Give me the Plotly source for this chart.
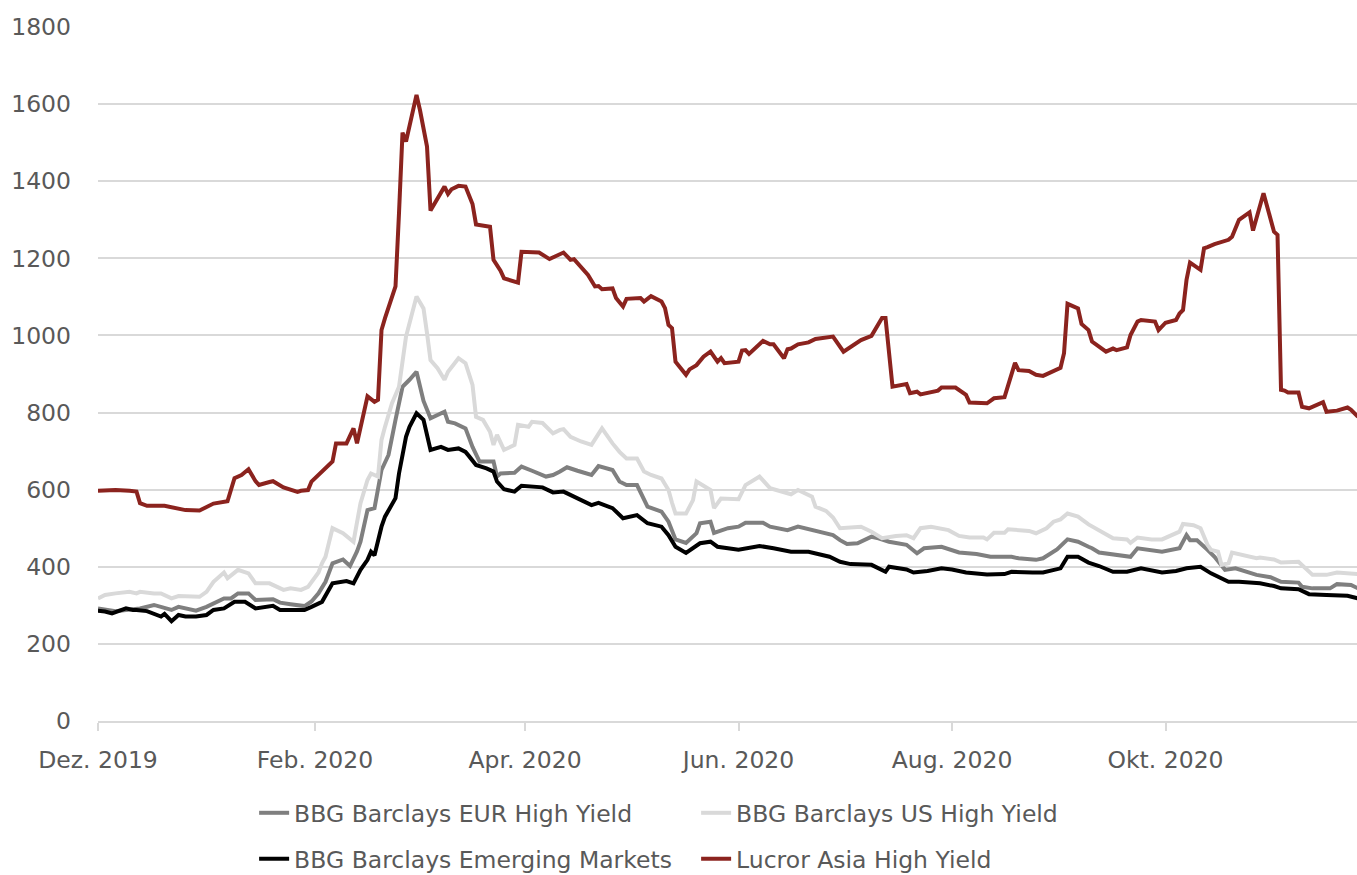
import plotly.graph_objects as go

# Spread indices (bp), Dec 2019 - Nov 2020
eur_dates = ["2019-12-01", "2019-12-04", "2019-12-06", "2019-12-09", "2019-12-13", "2019-12-17",
             "2019-12-19", "2019-12-22", "2019-12-24", "2019-12-29", "2020-01-01", "2020-01-04",
             "2020-01-06", "2020-01-08", "2020-01-10", "2020-01-13", "2020-01-15", "2020-01-20",
             "2020-01-22", "2020-01-25", "2020-01-29", "2020-01-31", "2020-02-02", "2020-02-04",
             "2020-02-06", "2020-02-09", "2020-02-11", "2020-02-13", "2020-02-14", "2020-02-16",
             "2020-02-18", "2020-02-20", "2020-02-22", "2020-02-24", "2020-02-26", "2020-02-28",
             "2020-03-01", "2020-03-03", "2020-03-05", "2020-03-09", "2020-03-10", "2020-03-12",
             "2020-03-15", "2020-03-17", "2020-03-19", "2020-03-23", "2020-03-24", "2020-03-25",
             "2020-03-29", "2020-03-31", "2020-04-02", "2020-04-03", "2020-04-07", "2020-04-09",
             "2020-04-11", "2020-04-13", "2020-04-16", "2020-04-20", "2020-04-22", "2020-04-26",
             "2020-04-28", "2020-04-30", "2020-05-03", "2020-05-06", "2020-05-10", "2020-05-12",
             "2020-05-14", "2020-05-17", "2020-05-20", "2020-05-21", "2020-05-24", "2020-05-25",
             "2020-05-29", "2020-06-01", "2020-06-03", "2020-06-08", "2020-06-10", "2020-06-15",
             "2020-06-18", "2020-06-22", "2020-06-25", "2020-06-28", "2020-06-30", "2020-07-02",
             "2020-07-05", "2020-07-09", "2020-07-11", "2020-07-14", "2020-07-19", "2020-07-22",
             "2020-07-24", "2020-07-29", "2020-08-03", "2020-08-08", "2020-08-12", "2020-08-18",
             "2020-08-20", "2020-08-25", "2020-08-27", "2020-08-31", "2020-09-03", "2020-09-06",
             "2020-09-09", "2020-09-10", "2020-09-12", "2020-09-16", "2020-09-21", "2020-09-23",
             "2020-09-30", "2020-10-05", "2020-10-07", "2020-10-08", "2020-10-10", "2020-10-13",
             "2020-10-15", "2020-10-18", "2020-10-21", "2020-10-27", "2020-10-31", "2020-11-03",
             "2020-11-08", "2020-11-09", "2020-11-12", "2020-11-17", "2020-11-19", "2020-11-23",
             "2020-11-25"]
eur_values = [292, 288, 285, 288, 292, 301,
              296, 288, 296, 286, 296, 310,
              318, 318, 331, 331, 314, 316,
              307, 303, 298, 310, 331, 361,
              409, 419, 402, 440, 465, 547,
              552, 651, 690, 781, 867, 885,
              906, 830, 785, 802, 776, 772,
              759, 711, 673, 673, 634, 642,
              644, 660, 651, 649, 634, 638,
              647, 658, 649, 638, 661, 651,
              621, 612, 612, 556, 543, 517,
              471, 462, 487, 513, 517, 488,
              500, 504, 514, 514, 504, 495,
              504, 495, 487, 482, 469, 459,
              461, 478, 474, 465, 457, 435,
              448, 452, 437, 433, 426, 426,
              422, 418, 422, 445, 471, 465,
              452, 448, 437, 431, 426, 448,
              439, 448, 482, 469, 469, 444,
              426, 392, 396, 379, 373, 361,
              359, 348, 344, 344, 355, 353,
              344]

us_dates = ["2019-12-01", "2019-12-03", "2019-12-06", "2019-12-10", "2019-12-12", "2019-12-13",
            "2019-12-17", "2019-12-19", "2019-12-22", "2019-12-24", "2019-12-30", "2020-01-01",
            "2020-01-03", "2020-01-06", "2020-01-07", "2020-01-10", "2020-01-13", "2020-01-15",
            "2020-01-19", "2020-01-23", "2020-01-25", "2020-01-28", "2020-01-30", "2020-02-02",
            "2020-02-03", "2020-02-04", "2020-02-06", "2020-02-09", "2020-02-12", "2020-02-14",
            "2020-02-16", "2020-02-17", "2020-02-19", "2020-02-20", "2020-02-21", "2020-02-23",
            "2020-02-25", "2020-02-27", "2020-03-01", "2020-03-03", "2020-03-04", "2020-03-05",
            "2020-03-07", "2020-03-09", "2020-03-10", "2020-03-13", "2020-03-15", "2020-03-17",
            "2020-03-18", "2020-03-20", "2020-03-22", "2020-03-23", "2020-03-24", "2020-03-26",
            "2020-03-29", "2020-03-30", "2020-04-02", "2020-04-03", "2020-04-06", "2020-04-09",
            "2020-04-11", "2020-04-12", "2020-04-14", "2020-04-17", "2020-04-20", "2020-04-23",
            "2020-04-26", "2020-04-28", "2020-04-30", "2020-05-03", "2020-05-05", "2020-05-07",
            "2020-05-10", "2020-05-12", "2020-05-13", "2020-05-14", "2020-05-17", "2020-05-19",
            "2020-05-20", "2020-05-24", "2020-05-25", "2020-05-27", "2020-06-01", "2020-06-03",
            "2020-06-07", "2020-06-10", "2020-06-16", "2020-06-18", "2020-06-22", "2020-06-23",
            "2020-06-26", "2020-06-28", "2020-06-30", "2020-07-06", "2020-07-09", "2020-07-12",
            "2020-07-16", "2020-07-19", "2020-07-21", "2020-07-23", "2020-07-26", "2020-07-29",
            "2020-07-31", "2020-08-03", "2020-08-06", "2020-08-10", "2020-08-11", "2020-08-13",
            "2020-08-16", "2020-08-17", "2020-08-20", "2020-08-23", "2020-08-25", "2020-08-28",
            "2020-08-30", "2020-09-01", "2020-09-03", "2020-09-06", "2020-09-09", "2020-09-13",
            "2020-09-16", "2020-09-20", "2020-09-21", "2020-09-23", "2020-09-27", "2020-09-30",
            "2020-10-05", "2020-10-06", "2020-10-09", "2020-10-11", "2020-10-13", "2020-10-14",
            "2020-10-16", "2020-10-17", "2020-10-19", "2020-10-20", "2020-10-23", "2020-10-27",
            "2020-10-28", "2020-11-01", "2020-11-03", "2020-11-08", "2020-11-12", "2020-11-16",
            "2020-11-19", "2020-11-25"]
us_values = [318, 327, 331, 335, 331, 335,
             331, 331, 318, 324, 322, 335,
             361, 385, 370, 392, 383, 357,
             357, 340, 344, 340, 348, 385,
             409, 426, 500, 487, 465, 565,
             625, 642, 634, 729, 763, 824,
             867, 997, 1101, 1070, 1006, 936,
             915, 885, 906, 941, 928, 872,
             789, 781, 750, 716, 742, 703,
             716, 768, 763, 776, 773, 746,
             755, 757, 737, 725, 716, 759,
             720, 698, 681, 681, 647, 638,
             629, 599, 566, 538, 538, 573,
             621, 599, 552, 577, 575, 612,
             634, 604, 588, 599, 582, 556,
             545, 528, 500, 504, 491, 474,
             480, 482, 474, 500, 504, 500,
             495, 480, 476, 476, 471, 488,
             488, 497, 495, 493, 487, 500,
             517, 523, 538, 530, 510, 491,
             474, 471, 462, 476, 471, 471,
             491, 511, 508, 500, 457, 444,
             439, 405, 409, 437, 431, 422,
             424, 419, 411, 413, 379, 379,
             385, 381]

em_dates = ["2019-12-01", "2019-12-03", "2019-12-05", "2019-12-09", "2019-12-11", "2019-12-12",
            "2019-12-15", "2019-12-17", "2019-12-19", "2019-12-20", "2019-12-22", "2019-12-24",
            "2019-12-26", "2019-12-29", "2020-01-01", "2020-01-03", "2020-01-06", "2020-01-09",
            "2020-01-12", "2020-01-15", "2020-01-20", "2020-01-22", "2020-01-29", "2020-01-31",
            "2020-02-03", "2020-02-06", "2020-02-10", "2020-02-12", "2020-02-14", "2020-02-16",
            "2020-02-17", "2020-02-18", "2020-02-20", "2020-02-21", "2020-02-24", "2020-02-25",
            "2020-02-27", "2020-02-28", "2020-03-01", "2020-03-03", "2020-03-04", "2020-03-05",
            "2020-03-08", "2020-03-10", "2020-03-13", "2020-03-15", "2020-03-16", "2020-03-18",
            "2020-03-21", "2020-03-23", "2020-03-24", "2020-03-26", "2020-03-29", "2020-03-31",
            "2020-04-06", "2020-04-09", "2020-04-12", "2020-04-14", "2020-04-17", "2020-04-20",
            "2020-04-22", "2020-04-26", "2020-04-29", "2020-05-03", "2020-05-06", "2020-05-10",
            "2020-05-12", "2020-05-14", "2020-05-17", "2020-05-21", "2020-05-24", "2020-05-26",
            "2020-06-01", "2020-06-07", "2020-06-11", "2020-06-16", "2020-06-21", "2020-06-27",
            "2020-06-30", "2020-07-03", "2020-07-09", "2020-07-11", "2020-07-13", "2020-07-14",
            "2020-07-19", "2020-07-21", "2020-07-25", "2020-07-29", "2020-08-01", "2020-08-05",
            "2020-08-11", "2020-08-16", "2020-08-18", "2020-08-24", "2020-08-27", "2020-09-01",
            "2020-09-03", "2020-09-06", "2020-09-09", "2020-09-12", "2020-09-16", "2020-09-20",
            "2020-09-24", "2020-09-30", "2020-10-04", "2020-10-07", "2020-10-11", "2020-10-14",
            "2020-10-19", "2020-10-22", "2020-10-28", "2020-11-01", "2020-11-03", "2020-11-08",
            "2020-11-11", "2020-11-16", "2020-11-22", "2020-11-25"]
em_values = [286, 284, 279, 292, 288, 288,
             285, 279, 271, 278, 259, 275,
             271, 271, 275, 288, 292, 309,
             309, 292, 299, 288, 288, 296,
             309, 357, 363, 357, 392, 418,
             439, 430, 504, 530, 578, 642,
             737, 763, 798, 781, 737, 703,
             711, 703, 707, 698, 687, 664,
             655, 647, 621, 601, 595, 610,
             606, 593, 595, 586, 575, 560,
             566, 552, 526, 534, 513, 504,
             482, 452, 436, 461, 465, 452,
             444, 454, 448, 439, 439, 426,
             413, 407, 405, 396, 387, 400,
             393, 385, 389, 396, 393, 385,
             380, 381, 387, 385, 385, 396,
             426, 426, 411, 402, 387, 387,
             396, 385, 389, 396, 400, 383,
             361, 361, 357, 350, 344, 342,
             329, 327, 325, 318]

asia_dates = ["2019-12-01", "2019-12-06", "2019-12-10", "2019-12-12", "2019-12-13", "2019-12-15",
              "2019-12-20", "2019-12-23", "2019-12-26", "2019-12-30", "2020-01-01", "2020-01-03",
              "2020-01-07", "2020-01-09", "2020-01-11", "2020-01-13", "2020-01-15", "2020-01-16",
              "2020-01-19", "2020-01-20", "2020-01-23", "2020-01-25", "2020-01-27", "2020-01-28",
              "2020-01-30", "2020-01-31", "2020-02-04", "2020-02-06", "2020-02-07", "2020-02-10",
              "2020-02-12", "2020-02-13", "2020-02-16", "2020-02-18", "2020-02-19", "2020-02-20",
              "2020-02-21", "2020-02-24", "2020-02-25", "2020-02-26", "2020-02-27", "2020-03-01",
              "2020-03-02", "2020-03-04", "2020-03-05", "2020-03-09", "2020-03-10", "2020-03-11",
              "2020-03-13", "2020-03-15", "2020-03-17", "2020-03-18", "2020-03-22", "2020-03-23",
              "2020-03-25", "2020-03-26", "2020-03-30", "2020-03-31", "2020-04-05", "2020-04-08",
              "2020-04-12", "2020-04-14", "2020-04-15", "2020-04-17", "2020-04-19", "2020-04-21",
              "2020-04-22", "2020-04-23", "2020-04-26", "2020-04-27", "2020-04-29", "2020-04-30",
              "2020-05-04", "2020-05-05", "2020-05-07", "2020-05-10", "2020-05-11", "2020-05-12",
              "2020-05-13", "2020-05-14", "2020-05-17", "2020-05-18", "2020-05-20", "2020-05-22",
              "2020-05-24", "2020-05-26", "2020-05-27", "2020-05-28", "2020-06-01", "2020-06-02",
              "2020-06-03", "2020-06-04", "2020-06-08", "2020-06-10", "2020-06-11", "2020-06-14",
              "2020-06-15", "2020-06-16", "2020-06-18", "2020-06-21", "2020-06-23", "2020-06-28",
              "2020-07-01", "2020-07-06", "2020-07-09", "2020-07-12", "2020-07-13", "2020-07-15",
              "2020-07-19", "2020-07-20", "2020-07-22", "2020-07-23", "2020-07-28", "2020-07-29",
              "2020-08-02", "2020-08-05", "2020-08-06", "2020-08-11", "2020-08-13", "2020-08-16",
              "2020-08-19", "2020-08-20", "2020-08-23", "2020-08-25", "2020-08-27", "2020-09-01",
              "2020-09-02", "2020-09-03", "2020-09-06", "2020-09-07", "2020-09-09", "2020-09-10",
              "2020-09-12", "2020-09-14", "2020-09-16", "2020-09-17", "2020-09-20", "2020-09-21",
              "2020-09-23", "2020-09-24", "2020-09-28", "2020-09-29", "2020-10-01", "2020-10-04",
              "2020-10-05", "2020-10-06", "2020-10-07", "2020-10-08", "2020-10-11", "2020-10-12",
              "2020-10-13", "2020-10-15", "2020-10-19", "2020-10-20", "2020-10-22", "2020-10-25",
              "2020-10-26", "2020-10-29", "2020-11-01", "2020-11-02", "2020-11-03", "2020-11-04",
              "2020-11-05", "2020-11-08", "2020-11-09", "2020-11-11", "2020-11-15", "2020-11-16",
              "2020-11-19", "2020-11-22", "2020-11-23", "2020-11-25"]
asia_values = [597, 599, 597, 595, 565, 558,
               558, 553, 547, 546, 556, 564,
               570, 630, 638, 653, 622, 612,
               620, 622, 606, 601, 594, 597,
               599, 621, 655, 673, 720, 720,
               759, 720, 842, 828, 833, 1014,
               1045, 1127, 1317, 1526, 1503, 1624,
               1584, 1490, 1324, 1386, 1367, 1379,
               1388, 1386, 1341, 1288, 1282, 1196,
               1168, 1148, 1137, 1217, 1215, 1198,
               1215, 1196, 1198, 1178, 1157, 1127,
               1128, 1120, 1122, 1097, 1075, 1095,
               1097, 1088, 1102, 1088, 1071, 1027,
               1019, 932, 898, 912, 923, 945,
               958, 932, 941, 928, 932, 961,
               962, 952, 986, 977, 977, 941,
               964, 966, 977, 982, 991, 997,
               958, 988, 999, 1045, 1045, 867,
               874, 850, 854, 847, 857, 865,
               865, 846, 826, 824, 837, 840,
               929, 910, 908, 898, 895, 916,
               954, 1082, 1070, 1030, 1014, 984,
               971, 958, 966, 962, 969, 1001,
               1036, 1040, 1036, 1014, 1033, 1040,
               1057, 1066, 1144, 1189, 1170, 1226,
               1229, 1237, 1248, 1256, 1300, 1319,
               1272, 1369, 1269, 1261, 859, 857,
               852, 852, 815, 811, 827, 802,
               805, 813, 807, 789]

series = [
    ("BBG Barclays EUR High Yield", eur_dates, eur_values, "#7f7f7f", "legend"),
    ("BBG Barclays US High Yield", us_dates, us_values, "#d9d9d9", "legend"),
    ("BBG Barclays Emerging Markets", em_dates, em_values, "#000000", "legend2"),
    ("Lucror Asia High Yield", asia_dates, asia_values, "#8b231e", "legend2"),
]

tick_dates = ["2019-12-01", "2020-02-01", "2020-04-01", "2020-06-01", "2020-08-01", "2020-10-01"]
tick_labels = ["Dez. 2019", "Feb. 2020", "Apr. 2020", "Jun. 2020", "Aug. 2020", "Okt. 2020"]
y_ticks = list(range(0, 1801, 200))

FONT = "DejaVu Sans"
TEXT = "#595959"
GRID = "#d9d9d9"

fig = go.Figure()
for name, x, y, color, leg in series:
    fig.add_trace(go.Scatter(
        x=x, y=y, name=name, mode="lines", legend=leg,
        line=dict(color=color, width=4),
    ))

legend_common = dict(
    orientation="h", xanchor="left", yanchor="middle",
    entrywidth=397, entrywidthmode="pixels", itemwidth=30,
    font=dict(family=FONT, size=23.5, color=TEXT),
    bgcolor="rgba(0,0,0,0)", borderwidth=0,
)

fig.update_layout(
    width=1357, height=875,
    margin=dict(l=98, r=0, t=27, b=154, pad=0, autoexpand=False),
    paper_bgcolor="white", plot_bgcolor="white",
    font=dict(family=FONT, size=23.5, color=TEXT),
    showlegend=True,
    legend=dict(x=0.124, y=-0.1326, **legend_common),
    legend2=dict(x=0.124, y=-0.1988, **legend_common),
    xaxis=dict(
        type="date", range=["2019-12-01", "2020-11-24 17:00"],
        tickmode="array", tickvals=tick_dates, ticktext=tick_labels,
        ticks="outside", ticklen=8, tickwidth=1.5, tickcolor=GRID,
        showgrid=False, showline=True, linecolor=GRID, linewidth=1.5,
        zeroline=False, ticklabelstandoff=9, automargin=False,
        tickfont=dict(family=FONT, size=23.5, color=TEXT),
    ),
    yaxis=dict(
        range=[0, 1800], tickmode="array", tickvals=y_ticks,
        showgrid=True, gridcolor=GRID, gridwidth=1.5,
        zeroline=False, showline=False, ticks="",
        ticklabelstandoff=26, automargin=False,
        tickfont=dict(family=FONT, size=23.5, color=TEXT),
    ),
)

fig.write_html("out.html")
